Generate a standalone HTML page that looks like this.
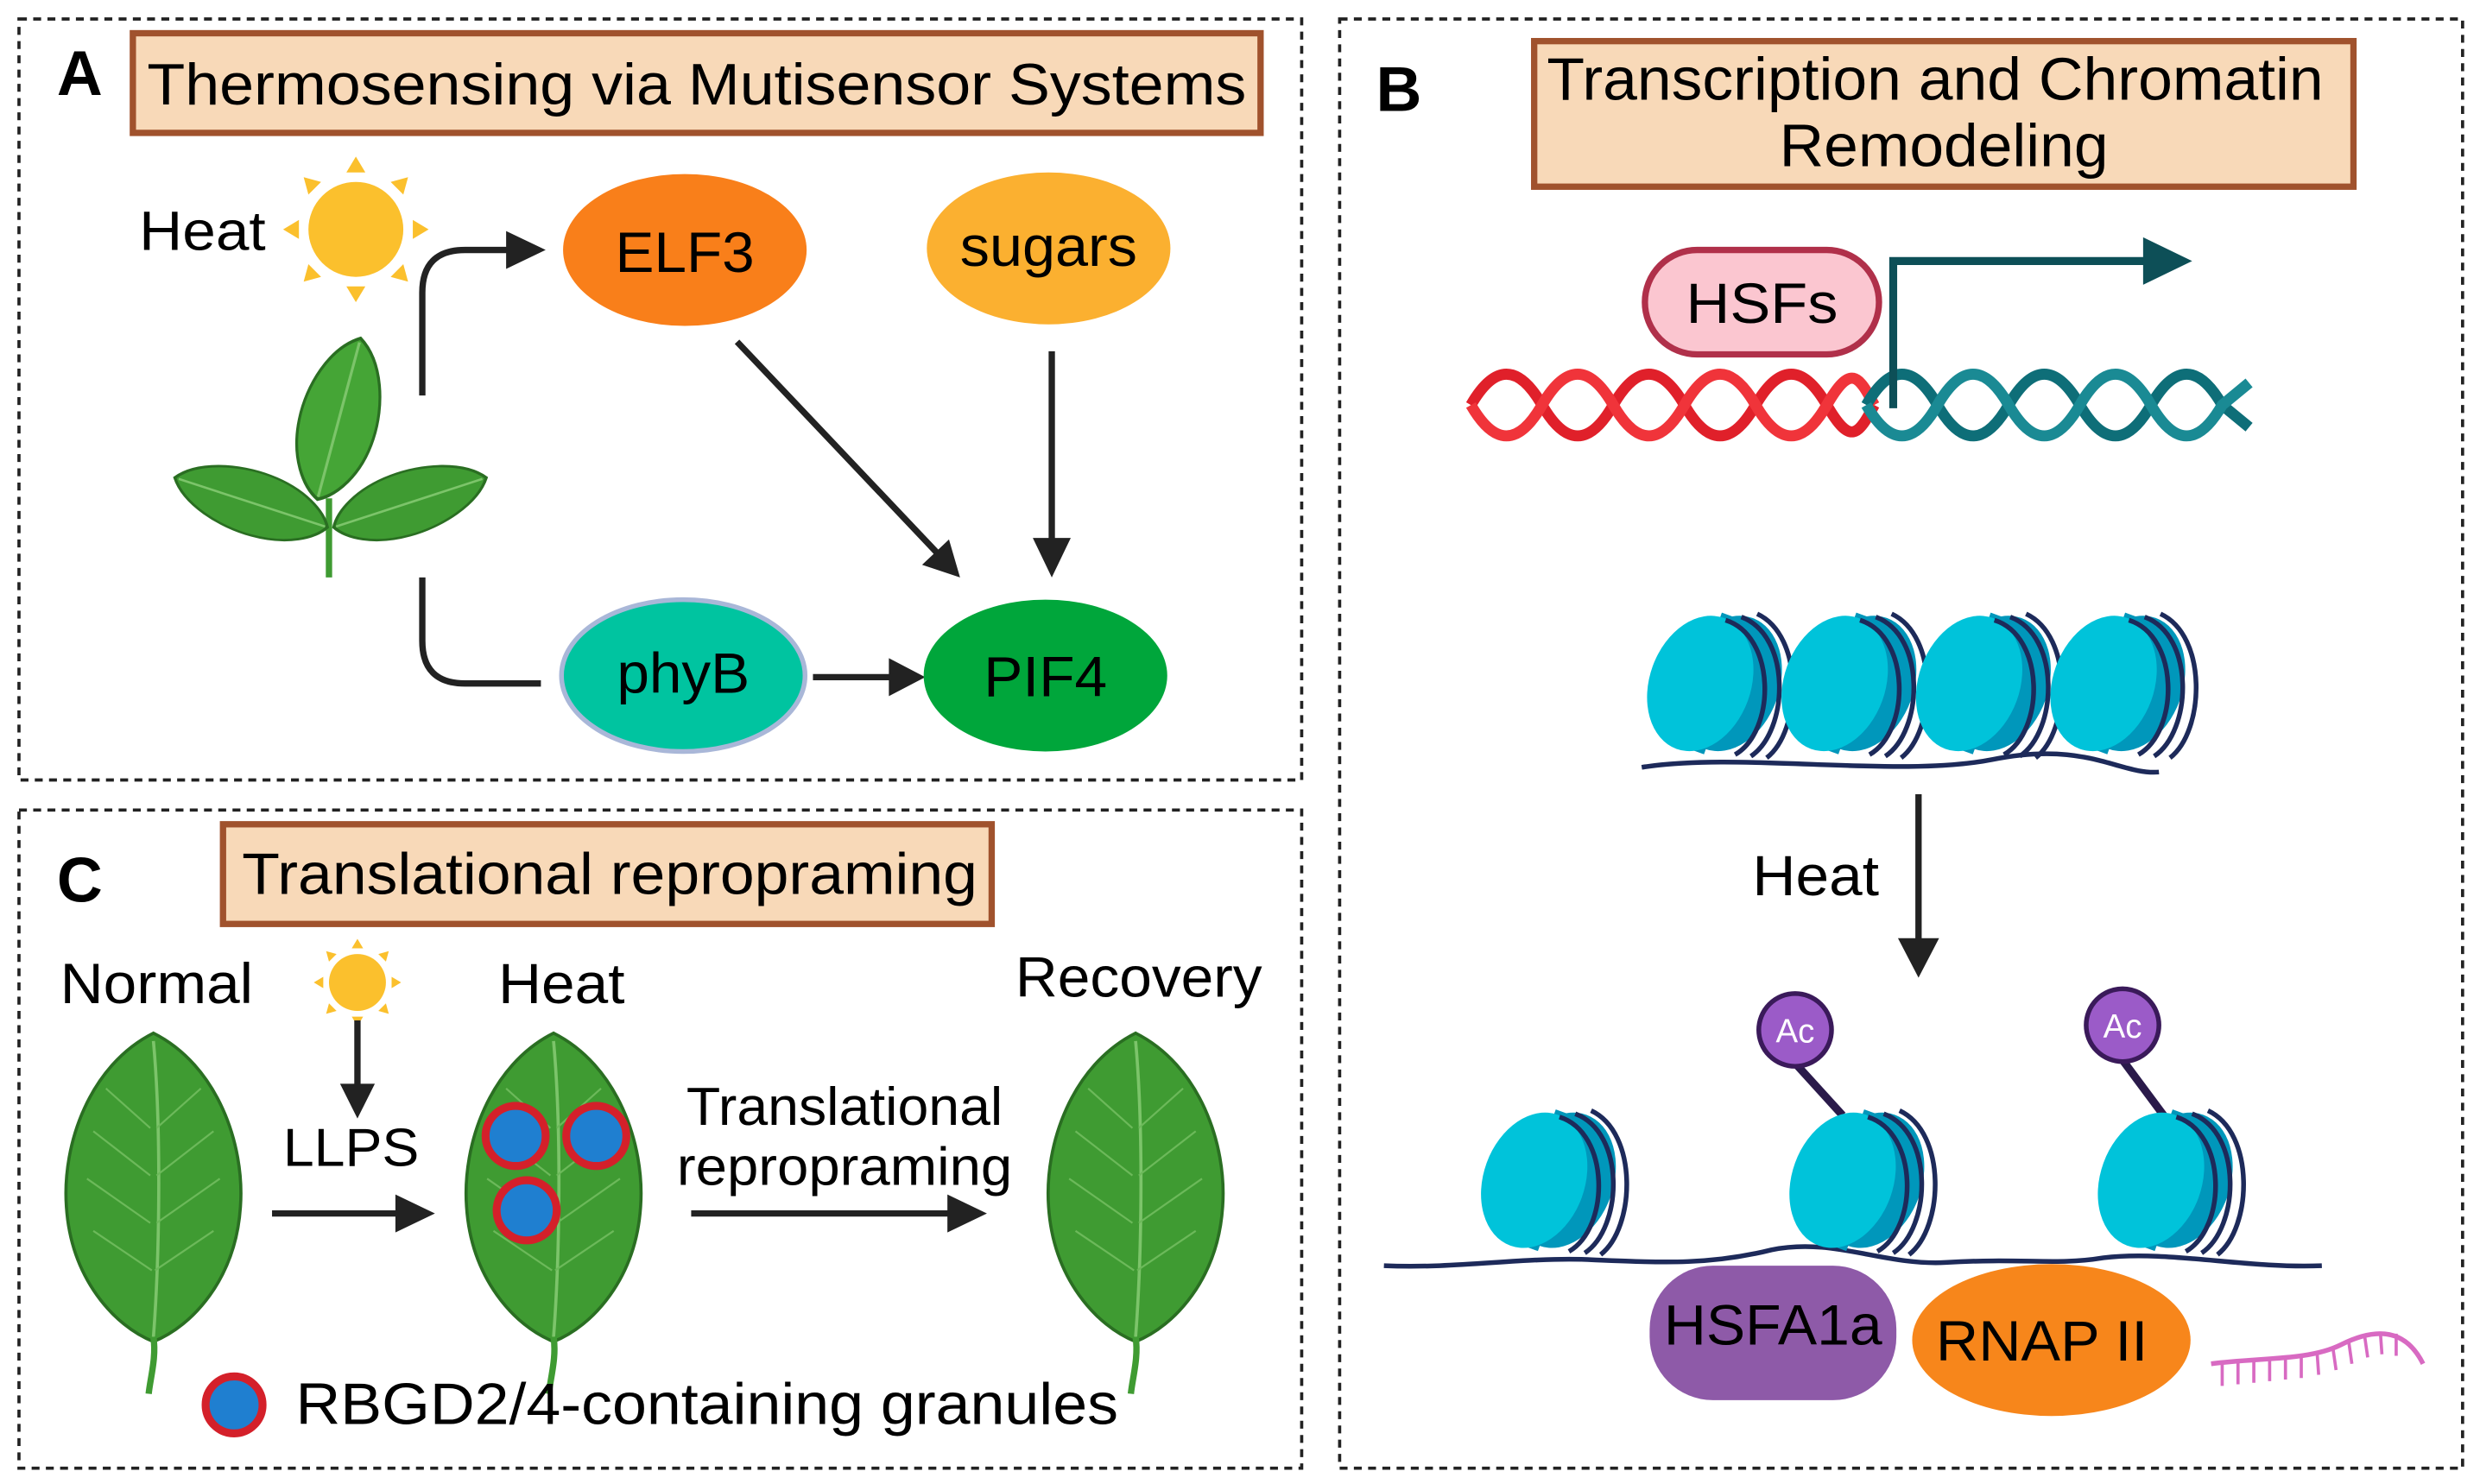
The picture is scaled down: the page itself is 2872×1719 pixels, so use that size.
<!DOCTYPE html>
<html><head><meta charset="utf-8"><style>
html,body{margin:0;padding:0;background:#fff;}
svg{display:block;}
text{font-family:"Liberation Sans",Arial,sans-serif;}
</style></head><body>
<svg width="2872" height="1719" viewBox="0 0 1568 938" preserveAspectRatio="none" xmlns="http://www.w3.org/2000/svg">
<defs>
<g id="leaf">
<path d="M0,-100 C40,-80 58,-30 55,10 C52,55 25,85 0,95 C-25,85 -52,55 -55,10 C-58,-30 -40,-80 0,-100Z" fill="#3f9b32" stroke="#2a6e22" stroke-width="2"/>
<path d="M0,-95 C5,-40 4,40 0,92" stroke="#7cc46a" stroke-width="2" fill="none"/>
<path d="M2,-40 L30,-65 M2,-10 L38,-38 M2,20 L42,-8 M1,50 L38,25 M-2,-40 L-30,-65 M-2,-10 L-38,-38 M-2,20 L-42,-8 M-1,50 L-38,25" stroke="#6cb95a" stroke-width="1.2" fill="none"/>
<path d="M0,92 C2,105 -2,118 -3,128" stroke="#3f9b32" stroke-width="4" fill="none"/>
</g>
<path id="lf" d="M0,-100 C40,-80 58,-30 55,10 C52,55 25,85 0,95 C-25,85 -52,55 -55,10 C-58,-30 -40,-80 0,-100Z"/>
<g id="nuc">
<ellipse cx="10" cy="0" rx="32" ry="44" transform="rotate(20 10 0)" fill="#0097bb"/>
<rect x="-10" y="-44" width="20" height="88" fill="#0097bb" transform="rotate(20)"/>
<ellipse cx="-8" cy="0" rx="32" ry="44" transform="rotate(20 -8 0)" fill="#00c3da"/>
<path d="M8,-40 C40,-30 40,30 14,45 M18,-42 C50,-30 48,30 24,46 M28,-44 C58,-30 56,30 34,47" stroke="#1d2a5a" stroke-width="3" fill="none"/>
</g>
<g id="sun">
<circle r="30" fill="#fbc02d"/>
<g fill="#fbc02d">
<polygon points="0,-46 -6,-36 6,-36"/><polygon points="0,46 -6,36 6,36"/>
<polygon points="-46,0 -36,-6 -36,6"/><polygon points="46,0 36,-6 36,6"/>
<polygon points="-33,-33 -30,-22 -22,-30"/><polygon points="33,-33 30,-22 22,-30"/>
<polygon points="-33,33 -30,22 -22,30"/><polygon points="33,33 30,22 22,30"/>
</g>
</g>
</defs>
<rect width="1568" height="938" fill="#fff"/>
<g fill="none" stroke="#222" stroke-width="2" stroke-dasharray="5,4">
<rect x="12" y="12" width="811" height="481"/>
<rect x="12" y="512" width="811" height="416"/>
<rect x="847" y="12" width="710" height="916"/>
</g>

<!-- Panel A -->
<text x="36" y="60" font-size="40" font-weight="bold">A</text>
<rect x="84" y="21" width="713" height="63" fill="#f8d9b8" stroke="#a0522d" stroke-width="4"/>
<text x="93" y="66" font-size="37" textLength="695" lengthAdjust="spacingAndGlyphs">Thermosensing via Mutisensor Systems</text>
<text x="88" y="158" font-size="35" textLength="80" lengthAdjust="spacingAndGlyphs">Heat</text>
<use href="#sun" x="225" y="145"/>
<path d="M208,315 L208,365" stroke="#3f9b32" stroke-width="4"/>
<g transform="translate(160,318) rotate(-72) scale(0.36,0.52)"><use href="#lf" fill="#3f9b32" stroke="#2a6e22" stroke-width="4"/><path d="M0,-95 L0,92" stroke="#7cc46a" stroke-width="4"/></g>
<g transform="translate(258,318) rotate(72) scale(0.36,0.52)"><use href="#lf" fill="#3f9b32" stroke="#2a6e22" stroke-width="4"/><path d="M0,-95 L0,92" stroke="#7cc46a" stroke-width="4"/></g>
<g transform="translate(214,266) rotate(15) scale(0.44,0.54)"><use href="#lf" fill="#45a536" stroke="#2a6e22" stroke-width="4"/><path d="M0,-95 L0,92" stroke="#7cc46a" stroke-width="4"/></g>
<g stroke="#222" stroke-width="4" fill="none">
<path d="M267,250 L267,185 Q267,158 294,158 L325,158"/>
<path d="M267,365 L267,405 Q267,432 294,432 L342,432"/>
<path d="M466,216 L593,350"/>
<path d="M665,222 L665,342"/>
<path d="M514,428 L565,428"/>
</g>
<g fill="#222">
<polygon points="345,158 320,146 320,170"/>
<polygon points="607,365 583,357 600,341"/>
<polygon points="665,365 653,340 677,340"/>
<polygon points="585,428 562,416 562,440"/>
</g>
<ellipse cx="433" cy="158" rx="77" ry="48" fill="#f97f1a"/>
<text x="389" y="172" font-size="36" textLength="88" lengthAdjust="spacingAndGlyphs">ELF3</text>
<ellipse cx="663" cy="157" rx="77" ry="48" fill="#fbb030"/>
<text x="607" y="168" font-size="36" textLength="112" lengthAdjust="spacingAndGlyphs">sugars</text>
<ellipse cx="432" cy="427" rx="77" ry="48" fill="#00c4a0" stroke="#a9b7d8" stroke-width="3"/>
<text x="390" y="438" font-size="36" textLength="84" lengthAdjust="spacingAndGlyphs">phyB</text>
<ellipse cx="661" cy="427" rx="77" ry="48" fill="#00a63b"/>
<text x="622" y="440" font-size="36" textLength="78" lengthAdjust="spacingAndGlyphs">PIF4</text>

<!-- Panel B -->
<text x="870" y="70" font-size="40" font-weight="bold">B</text>
<rect x="970" y="26" width="518" height="92" fill="#f8d9b8" stroke="#a0522d" stroke-width="4"/>
<text x="978" y="63" font-size="38" textLength="491" lengthAdjust="spacingAndGlyphs">Transcription and Chromatin</text>
<text x="1125" y="105" font-size="38" textLength="208" lengthAdjust="spacingAndGlyphs">Remodeling</text>
<path d="M930,256 C945,230 960,230 975,256 S1005,282 1020,256 S1050,230 1065,256 S1095,282 1110,256 S1140,230 1155,256 S1175,275 1185,256" stroke="#e0202a" stroke-width="7" fill="none"/>
<path d="M930,256 C945,282 960,282 975,256 S1005,230 1020,256 S1050,282 1065,256 S1095,230 1110,256 S1140,282 1155,256 S1175,237 1185,256" stroke="#f0343a" stroke-width="7" fill="none"/>
<path d="M1180,256 C1195,230 1210,230 1225,256 S1255,282 1270,256 S1300,230 1315,256 S1345,282 1360,256 S1390,230 1405,256 L1422,270" stroke="#0e6e78" stroke-width="7" fill="none"/>
<path d="M1180,256 C1195,282 1210,282 1225,256 S1255,230 1270,256 S1300,282 1315,256 S1345,230 1360,256 S1390,282 1405,256 L1422,242" stroke="#1a8a94" stroke-width="7" fill="none"/>
<path d="M1197,258 L1197,165 L1358,165" stroke="#0d4f57" stroke-width="5" fill="none"/>
<polygon points="1386,165 1355,150 1355,180" fill="#0d4f57"/>
<rect x="1040" y="158" width="148" height="66" rx="33" fill="#fbc6d0" stroke="#b0304a" stroke-width="4"/>
<text x="1066" y="204" font-size="36" textLength="96" lengthAdjust="spacingAndGlyphs">HSFs</text>

<path d="M1038,485 C1100,475 1200,492 1260,480 S1340,490 1365,488" stroke="#1d2a5a" stroke-width="3" fill="none"/>
<use href="#nuc" x="1083" y="432"/>
<use href="#nuc" x="1168" y="432"/>
<use href="#nuc" x="1253" y="432"/>
<use href="#nuc" x="1338" y="432"/>
<path d="M1213,502 L1213,595" stroke="#222" stroke-width="4"/>
<polygon points="1213,618 1200,593 1226,593" fill="#222"/>
<text x="1108" y="566" font-size="36" textLength="80" lengthAdjust="spacingAndGlyphs">Heat</text>

<path d="M875,800 C920,802 960,795 1000,796 C1050,798 1080,800 1120,790 C1160,782 1190,800 1230,798 C1280,795 1300,800 1330,795 C1370,790 1420,802 1468,800" stroke="#1d2a5a" stroke-width="3" fill="none"/>
<use href="#nuc" x="978" y="746"/>
<path d="M1135,672 L1165,705" stroke="#2a1a4a" stroke-width="5"/>
<path d="M1342,670 L1368,705" stroke="#2a1a4a" stroke-width="5"/>
<use href="#nuc" x="1173" y="746"/>
<use href="#nuc" x="1368" y="746"/>
<circle cx="1135" cy="651" r="23" fill="#9b5bc8" stroke="#3a1a5a" stroke-width="3"/>
<text x="1135" y="659" font-size="21" fill="#fff" text-anchor="middle">Ac</text>
<circle cx="1342" cy="648" r="23" fill="#9b5bc8" stroke="#3a1a5a" stroke-width="3"/>
<text x="1342" y="656" font-size="21" fill="#fff" text-anchor="middle">Ac</text>
<rect x="1043" y="800" width="156" height="85" rx="40" fill="#8e5aa8"/>
<text x="1052" y="850" font-size="36" textLength="138" lengthAdjust="spacingAndGlyphs">HSFA1a</text>
<ellipse cx="1297" cy="847" rx="88" ry="48" fill="#f7861b"/>
<text x="1224" y="860" font-size="36" textLength="134" lengthAdjust="spacingAndGlyphs">RNAP II</text>
<path d="M1398,862 C1430,858 1460,860 1480,850 C1500,840 1520,838 1532,862" stroke="#d86ac2" stroke-width="3" fill="none"/>
<path d="M1405,862 l0,14 M1415,861 l0,14 M1425,860 l0,14 M1435,859 l0,14 M1445,858 l0,14 M1455,857 l0,14 M1465,855 l1,14 M1475,852 l2,14 M1485,848 l2,14 M1495,844 l2,14 M1505,842 l1,14 M1515,843 l0,14" stroke="#d86ac2" stroke-width="2"/>

<!-- Panel C -->
<text x="36" y="570" font-size="40" font-weight="bold">C</text>
<rect x="141" y="521" width="486" height="63" fill="#f8d9b8" stroke="#a0522d" stroke-width="4"/>
<text x="153" y="565" font-size="37" textLength="465" lengthAdjust="spacingAndGlyphs">Translational repropraming</text>
<text x="38" y="634" font-size="36" textLength="122" lengthAdjust="spacingAndGlyphs">Normal</text>
<text x="315" y="634" font-size="36" textLength="80" lengthAdjust="spacingAndGlyphs">Heat</text>
<text x="642" y="630" font-size="36" textLength="156" lengthAdjust="spacingAndGlyphs">Recovery</text>
<use href="#leaf" x="97" y="753"/>
<use href="#leaf" x="350" y="753"/>
<use href="#leaf" x="718" y="753"/>
<g transform="translate(226,621) scale(0.6)"><use href="#sun"/></g>
<path d="M226,645 L226,688" stroke="#222" stroke-width="4"/>
<polygon points="226,707 215,685 237,685" fill="#222"/>
<text x="179" y="737" font-size="34" textLength="86" lengthAdjust="spacingAndGlyphs">LLPS</text>
<path d="M172,767 L252,767" stroke="#222" stroke-width="4"/>
<polygon points="275,767 250,755 250,779" fill="#222"/>
<g fill="#1f7fd0" stroke="#d4202a" stroke-width="5">
<circle cx="326" cy="718" r="19"/><circle cx="377" cy="718" r="19"/><circle cx="333" cy="765" r="19"/>
<circle cx="148" cy="888" r="18"/>
</g>
<text x="434" y="711" font-size="34" textLength="200" lengthAdjust="spacingAndGlyphs">Translational</text>
<text x="428" y="749" font-size="34" textLength="212" lengthAdjust="spacingAndGlyphs">repropraming</text>
<path d="M437,767 L600,767" stroke="#222" stroke-width="4"/>
<polygon points="624,767 599,755 599,779" fill="#222"/>
<text x="187" y="900" font-size="37" textLength="520" lengthAdjust="spacingAndGlyphs">RBGD2/4-containing granules</text>
</svg>
</body></html>
